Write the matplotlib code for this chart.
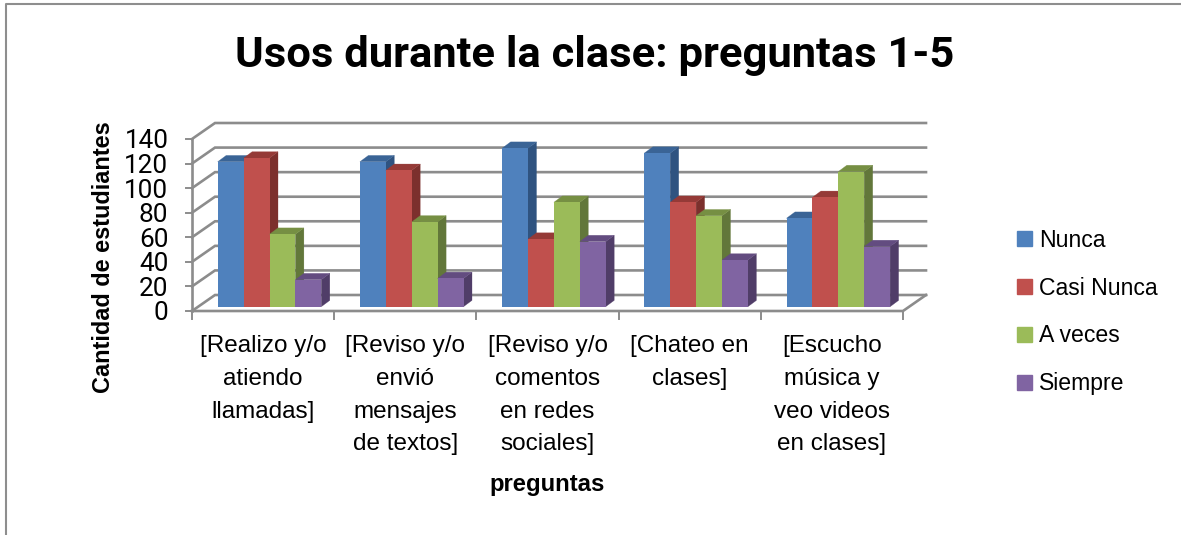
import matplotlib
matplotlib.use('Agg')
import matplotlib.pyplot as plt
from matplotlib.patches import Polygon, Rectangle
from matplotlib.lines import Line2D

plt.rcParams['font.family'] = ['Liberation Sans', 'DejaVu Sans']
ANGOSTA = ['Roboto', 'Liberation Sans']

categorias = ['[Realizo y/o\natiendo\nllamadas]', '[Reviso y/o\nenvió\nmensajes\nde textos]',
              '[Reviso y/o\ncomentos\nen redes\nsociales]', '[Chateo en\nclases]',
              '[Escucho\nmúsica y\nveo videos\nen clases]']
nunca = [118, 118, 129, 125, 72]
casi_nunca = [121, 111, 55, 85, 89]
a_veces = [59, 69, 85, 74, 110]
siempre = [22, 23, 53, 38, 49]
series = ['Nunca', 'Casi Nunca', 'A veces', 'Siempre']
y_ticks = [0, 20, 40, 60, 80, 100, 120, 140]

frente = ['#4F81BD', '#C0504D', '#9BBB59', '#8064A2']
lado = ['#2F5380', '#7C302D', '#62773A', '#503D68']
arriba = ['#3A6496', '#953A37', '#768F43', '#634C80']
GRIS = '#8C8C8C'

W, H = 1181, 535
fig = plt.figure(figsize=(W / 100, H / 100), dpi=100)
fig.patch.set_facecolor('white')

# marco del grafico
fig.add_artist(Line2D([5.5 / W, 5.5 / W, 1], [0, 1 - 3.5 / H, 1 - 3.5 / H], color='#8E8E8E', lw=1.5))

# front of the plot box in pixels
x0, x1, y0, y1 = 192, 903, 311, 139
ax = fig.add_axes([x0 / W, 1 - y0 / H, (x1 - x0) / W, (y0 - y1) / H])
ax.set_xlim(0, 5)
ax.set_ylim(0, 140)
ax.patch.set_visible(False)
for s in ax.spines.values():
    s.set_visible(False)

# depth in data units
px = (x1 - x0) / 5.0
py = (y0 - y1) / 140.0
wall_dx, wall_dy = 23 / px, 16 / py
bar_dx, bar_dy = 8.5 / px, 6.3 / py
base_dy = 4.3 / py
bar_w = 25.9 / px
pad = 25.7 / px


def poly(pts, color, z, lw=0.0):
    ax.add_patch(Polygon(pts, closed=True, facecolor=color, edgecolor=color, lw=lw, zorder=z, clip_on=False))


# paredes y suelo
for v in y_ticks:
    ax.plot([0, wall_dx, 5 + wall_dx], [v, v + wall_dy, v + wall_dy], color=GRIS, lw=1.9, zorder=1,
            clip_on=False, solid_joinstyle='miter')
    ax.plot([-6 / px, 0], [v, v], color=GRIS, lw=1.4, zorder=1, clip_on=False)
ax.plot([0, 0], [0, 140], color=GRIS, lw=1.9, zorder=1, clip_on=False)
ax.plot([0, 5, 5 + wall_dx], [0, 0, wall_dy], color=GRIS, lw=1.9, zorder=1, clip_on=False,
        solid_joinstyle='miter')
for i in range(6):
    ax.plot([i, i], [-8 / py, 0], color=GRIS, lw=1.4, zorder=1, clip_on=False)

# barras
valores = [nunca, casi_nunca, a_veces, siempre]
for i in range(5):
    for j in range(3, -1, -1):
        v = valores[j][i]
        left = i + pad + j * bar_w
        right = left + bar_w
        b = base_dy
        z = 5 + j
        poly([(right, b), (right + bar_dx, b + bar_dy), (right + bar_dx, b + v + bar_dy), (right, b + v)],
             lado[j], z, 0.2)
        poly([(left, b + v), (left + bar_dx, b + v + bar_dy), (right + bar_dx, b + v + bar_dy), (right, b + v)],
             arriba[j], z, 0.2)
        ax.bar(left, v, bar_w, bottom=b, align='edge', color=frente[j], zorder=z + 0.5, clip_on=False)

ax.set_xticks([i + 0.5 for i in range(5)])
ax.set_xticklabels(categorias, fontsize=17.5, linespacing=1.63, color='black')
ax.set_yticks(y_ticks)
ax.set_yticklabels([str(v) for v in y_ticks], fontsize=18.8, family=ANGOSTA)
ax.tick_params(axis='both', length=0)
ax.tick_params(axis='x', pad=17.5)
ax.tick_params(axis='y', pad=17)

fig.text(547 / W, 1 - 484 / H, 'preguntas', fontsize=17.2, fontweight='bold', ha='center', va='center')
fig.text(103 / W, 1 - 257 / H, 'Cantidad de estudiantes', fontsize=16.9, fontweight='bold', rotation=90,
         ha='center', va='center')
fig.text(595 / W, 1 - 55 / H, 'Usos durante la clase: preguntas 1-5', fontsize=31.3, fontweight='bold',
         ha='center', va='center', family=ANGOSTA)

# leyenda
handles = [Rectangle((0, 0), 1, 1, color=c) for c in frente]
fig.legend(handles, series, loc='center left', bbox_to_anchor=(1017 / W, 1 - 312 / H), frameon=False,
           fontsize=16.6, handlelength=0.65, handleheight=0.65, labelspacing=1.08, handletextpad=0.32,
           borderpad=0, borderaxespad=0)

fig.savefig('out.png', dpi=100)
